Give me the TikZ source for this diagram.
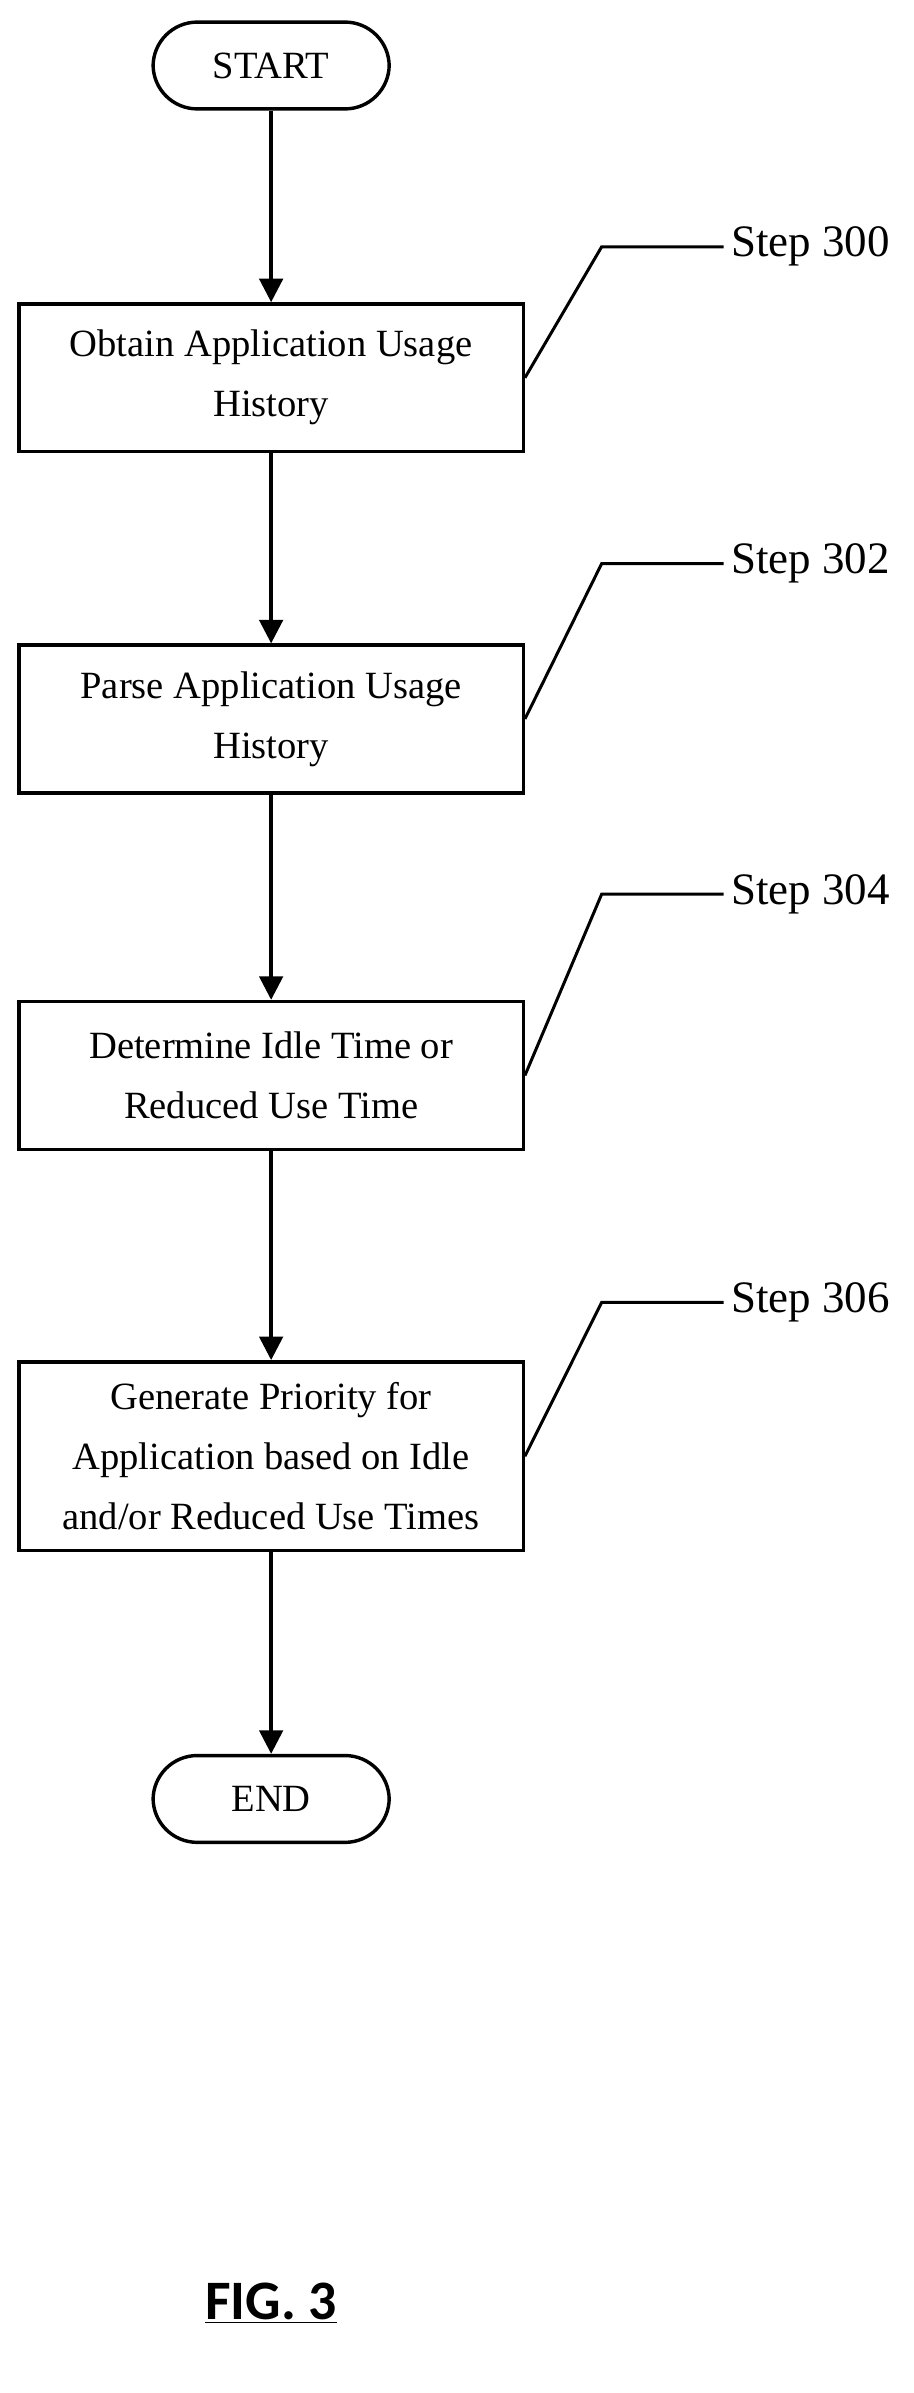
\documentclass[tikz,border=0pt]{standalone}
\usepackage{fontspec}
\setmainfont{Liberation Serif}
\newfontfamily\figfont{Carlito}
\usetikzlibrary{arrows.meta}
\begin{document}
\begin{tikzpicture}[x=0.025cm,y=-0.025cm,
    box/.style={draw, line width=1.6pt, minimum width=331*0.025cm, align=center,
        font=\fontsize{18}{28}\selectfont},
    term/.style={draw, line width=1.6pt, rounded corners=29*0.025cm, minimum width=155*0.025cm,
        minimum height=57*0.025cm, font=\fontsize{18}{22}\selectfont},
    flow/.style={line width=1.6pt, -{Triangle[length=11pt,width=11pt]}},
    lead/.style={line width=1.4pt},
    steplbl/.style={anchor=west, font=\fontsize{21}{24}\selectfont}]
    \useasboundingbox (0,0) rectangle (600,1571);

    % terminals
    \node[term] (start) at (178,43) {START};
    \node[term] (end) at (178,1181) {END};

    % process boxes
    \node[box, minimum height=97*0.025cm] (obtain) at (178,248) {Obtain Application Usage\\History};
    \node[box, minimum height=97*0.025cm] (parse) at (178,472) {Parse Application Usage\\History};
    \node[box, minimum height=97*0.025cm] (idle) at (178,706) {Determine Idle Time or\\Reduced Use Time};
    \node[box, minimum height=124*0.025cm] (prio) at (178,956) {Generate Priority for\\Application based on Idle\\and/or Reduced Use Times};

    % connectors
    \draw[flow] (start) -- (obtain);
    \draw[flow] (obtain) -- (parse);
    \draw[flow] (parse) -- (idle);
    \draw[flow] (idle) -- (prio);
    \draw[flow] (prio) -- (end);

    % step labels with leader lines
    \foreach \blk/\ly/\num in {obtain/162/300, parse/370/302, idle/587/304, prio/855/306} {
        \node[steplbl] (s\num) at (475,\ly) {Step \num};
        \coordinate (k\num) at (395,\ly);
        \draw[lead] (\blk.east) -- (k\num) -- (s\num.west);
    }

    % figure caption
    \node[font=\figfont\bfseries\fontsize{26}{30}\selectfont] (fig) at (178,1512) {\underline{FIG. 3}};
\end{tikzpicture}
\end{document}
